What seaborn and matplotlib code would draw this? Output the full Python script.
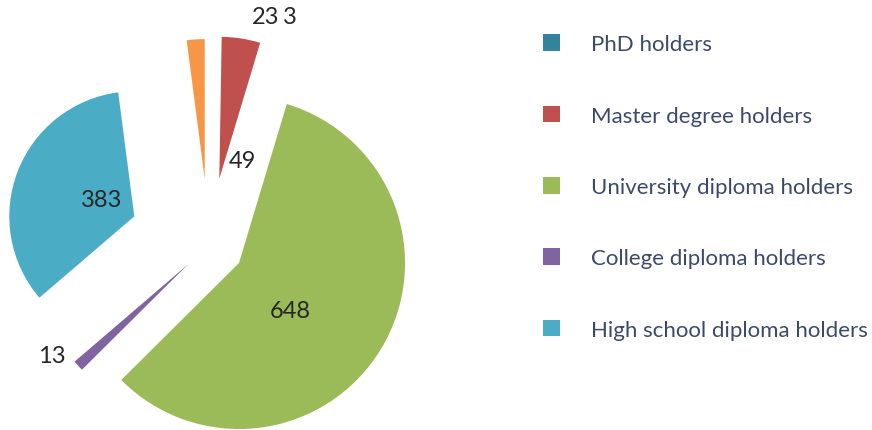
import numpy as np
import seaborn as sns
import matplotlib.pyplot as plt

# data
categories = ["PhD holders", "Master degree holders", "University diploma holders",
              "College diploma holders", "High school diploma holders", "Other"]
counts = [3, 49, 648, 13, 383, 23]
colors = ["#31849B", "#C0504D", "#9BBB59", "#8064A2", "#4BACC6", "#F79646"]

# per slice styling: explode distance and radius (pixels), label nudge (deg, dist)
explode_px = [260, 67, 35, 28, 80, 66]
radius_px = [140, 142, 166, 150, 125, 140]
label_dang = [-19.1, -13, -8, -7.4, -2, -17.7]
label_dist = [242, 91, 104, 192, 117, 235]

sns.set_theme(style="white")

fig = plt.figure(figsize=(8.72, 4.31), dpi=100)
ax = fig.add_axes([0, 0, 1, 1])
cx, cy = 209, 185

wedges, _ = ax.pie(counts, colors=colors, startangle=90, counterclock=False,
                   radius=1, center=(cx, cy), wedgeprops=dict(linewidth=0))

for i, w in enumerate(wedges):
    phi = np.deg2rad((w.theta1 + w.theta2) / 2)
    d = explode_px[i]
    w.set_center((cx + d * np.cos(phi), cy + d * np.sin(phi)))
    w.set_radius(radius_px[i])
    a = phi + np.deg2rad(label_dang[i])
    ax.text(cx + label_dist[i] * np.cos(a), cy + label_dist[i] * np.sin(a),
            str(counts[i]), ha="center", va="center", fontsize=17,
            color="#262626", family=["Lato", "DejaVu Sans"])

ax.set_xlim(0, 872)
ax.set_ylim(0, 431)
ax.set_aspect("equal")
ax.axis("off")

fig.legend(wedges[:5], categories[:5], loc="upper left", bbox_to_anchor=(0.623, 0.918),
           frameon=False, borderpad=0, borderaxespad=0,
           handlelength=0.77, handleheight=0.77,
           handletextpad=1.38, labelspacing=2.31, labelcolor="#3B4A6B",
           prop=dict(family=["Lato", "DejaVu Sans"], size=16))

fig.savefig("out.png", dpi=100)
